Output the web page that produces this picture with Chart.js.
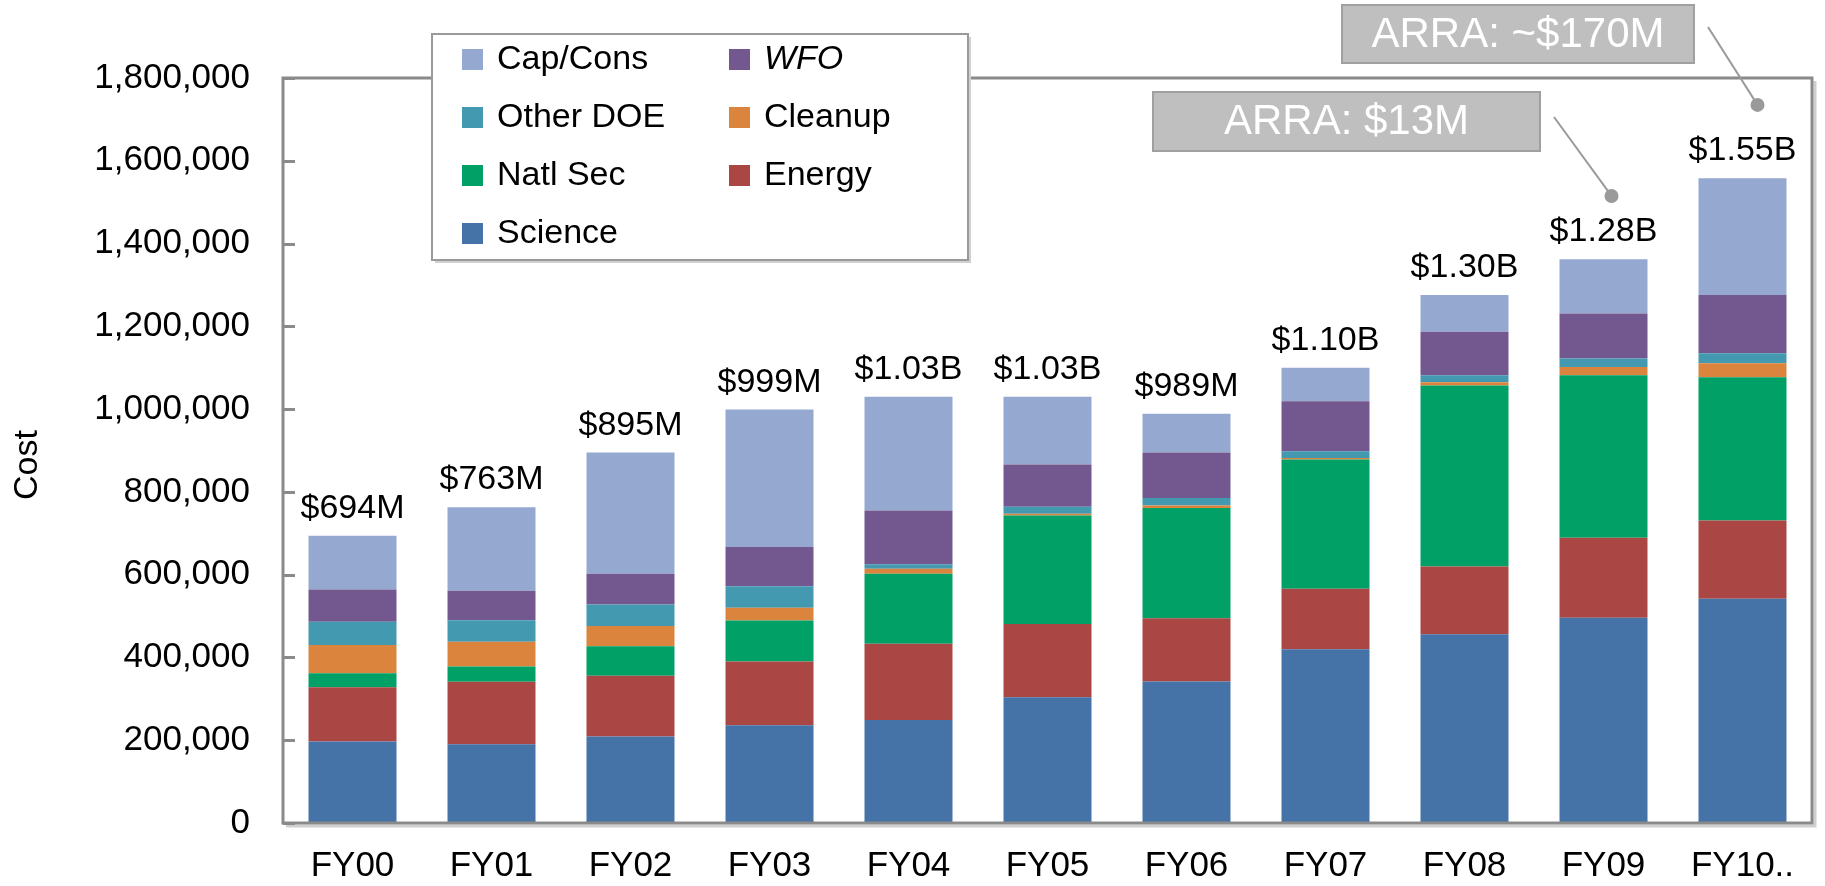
<!DOCTYPE html>
<html>
<head>
<meta charset="utf-8">
<script src="https://cdn.jsdelivr.net/npm/chart.js@4.4.1/dist/chart.umd.min.js"></script>
<style>
  html, body { margin: 0; padding: 0; background: #fff; }
  #wrap { width: 1825px; height: 886px; }
</style>
</head>
<body>
<div id="wrap"><canvas id="chart" width="1825" height="886"></canvas></div>
<script>
// values in $ (thousands, x1000)
const categories = ['FY00', 'FY01', 'FY02', 'FY03', 'FY04', 'FY05', 'FY06', 'FY07', 'FY08', 'FY09', 'FY10..'];
const science  = [197000, 190000, 209000, 236000, 249000, 304000, 342000, 420000, 456000, 496000, 542000];
const energy   = [131000, 151000, 147000, 154000, 184000, 177000, 153000, 146000, 164000, 193000, 189000];
const natlSec  = [34000, 37000, 71000, 99000, 169000, 262000, 266000, 312000, 437000, 393000, 346000];
const cleanup  = [68000, 60000, 49000, 31000, 12000, 4000, 6000, 4000, 8000, 20000, 34000];
const otherDoe = [56000, 52000, 52000, 52000, 11000, 17000, 18000, 16000, 17000, 20000, 24000];
const wfo      = [78000, 71000, 74000, 95000, 130000, 102000, 110000, 121000, 105000, 109000, 141000];
const capCons  = [130000, 202000, 293000, 332000, 275000, 164000, 94000, 81000, 89000, 131000, 282000];
const totalLabels = ['$694M', '$763M', '$895M', '$999M', '$1.03B', '$1.03B', '$989M', '$1.10B', '$1.30B', '$1.28B', '$1.55B'];
const yTicks = [0, 200000, 400000, 600000, 800000, 1000000, 1200000, 1400000, 1600000, 1800000];

// ARRA callouts
const arraText = ['ARRA: $13M', 'ARRA: ~$170M'];
const arraCategory = ['FY09', 'FY10..'];
const arraDotValue = [1515000, 1735000];

const FONT = "'Liberation Sans', Arial, sans-serif";
const NARROW = "'Liberation Sans Narrow', 'Liberation Sans', Arial, sans-serif";

const series = [
  { label: 'Science', data: science, color: '#4572A7' },
  { label: 'Energy', data: energy, color: '#AA4744' },
  { label: 'Natl Sec', data: natlSec, color: '#00A066' },
  { label: 'Cleanup', data: cleanup, color: '#DB843D' },
  { label: 'Other DOE', data: otherDoe, color: '#4299B0' },
  { label: 'WFO', data: wfo, color: '#72588E' },
  { label: 'Cap/Cons', data: capCons, color: '#95A9D0' }
];

const stackTop = i => series.reduce((s, d) => s + d.data[i], 0);

const overlay = {
  id: 'overlay',
  afterDatasetsDraw(chart) {
    const { ctx, chartArea: a, scales: { x, y } } = chart;
    ctx.save();

    // totals above bars
    ctx.fillStyle = '#000';
    ctx.font = '34px ' + FONT;
    ctx.textAlign = 'center';
    ctx.textBaseline = 'alphabetic';
    categories.forEach((c, i) => {
      ctx.fillText(totalLabels[i], x.getPixelForValue(i), y.getPixelForValue(stackTop(i)) - 18);
    });

    // plot frame with soft shadow
    ctx.strokeStyle = '#cfcfcf';
    ctx.lineWidth = 3;
    ctx.beginPath();
    ctx.moveTo(a.left + 3, a.bottom + 3);
    ctx.lineTo(a.right + 3, a.bottom + 3);
    ctx.lineTo(a.right + 3, a.top + 3);
    ctx.stroke();
    ctx.strokeStyle = '#8a8a8a';
    ctx.strokeRect(a.left, a.top, a.right - a.left, a.bottom - a.top);

    // inward tick marks on the value axis
    yTicks.forEach(v => {
      const py = Math.round(y.getPixelForValue(v)) + 0.5;
      ctx.beginPath();
      ctx.moveTo(a.left, py);
      ctx.lineTo(a.left + 12, py);
      ctx.stroke();
    });

    // axis title
    ctx.save();
    ctx.translate(28, 465);
    ctx.rotate(-Math.PI / 2);
    ctx.font = '34px ' + NARROW;
    ctx.textBaseline = 'middle';
    ctx.fillText('Cost', 0, 0);
    ctx.restore();
    ctx.restore();
  },
  afterDraw(chart) {
    const { ctx, scales: { x, y } } = chart;
    ctx.save();

    // legend box, two columns, top series first
    const lx = 432, ly = 34, lw = 536, lh = 226;
    ctx.fillStyle = '#d0d0d0';
    ctx.fillRect(lx + 3, ly + 3, lw, lh);
    ctx.fillStyle = '#fff';
    ctx.fillRect(lx, ly, lw, lh);
    ctx.strokeStyle = '#9a9a9a';
    ctx.lineWidth = 2;
    ctx.strokeRect(lx, ly, lw, lh);
    ctx.textBaseline = 'middle';
    ctx.textAlign = 'left';
    series.slice().reverse().forEach((s, i) => {
      const col = i % 2, row = Math.floor(i / 2);
      const sx = lx + 30 + col * 267;
      const sy = ly + 25 + row * 58;
      ctx.fillStyle = s.color;
      ctx.fillRect(sx, sy - 10, 21, 21);
      ctx.fillStyle = '#000';
      ctx.font = (s.label === 'WFO' ? 'italic ' : '') + '34px ' + FONT;
      ctx.fillText(s.label, sx + 35, sy + 1);
    });

    // ARRA callouts
    const boxes = [
      { x: 1153, y: 92, w: 387, h: 59, lx: 1554, ly: 117 },
      { x: 1342, y: 5, w: 352, h: 58, lx: 1708, ly: 27 }
    ];
    const dotOffset = [8, 15];
    arraText.forEach((t, i) => {
      const b = boxes[i];
      const dx = x.getPixelForValue(categories.indexOf(arraCategory[i])) + dotOffset[i];
      const dy = y.getPixelForValue(arraDotValue[i]);
      ctx.strokeStyle = '#9a9a9a';
      ctx.lineWidth = 2;
      ctx.beginPath();
      ctx.moveTo(b.lx, b.ly);
      ctx.lineTo(dx, dy);
      ctx.stroke();
      ctx.fillStyle = '#9a9a9a';
      ctx.beginPath();
      ctx.arc(dx, dy, 7, 0, Math.PI * 2);
      ctx.fill();

      ctx.fillStyle = '#bfbfbf';
      ctx.fillRect(b.x, b.y, b.w, b.h);
      ctx.strokeStyle = '#a0a0a0';
      ctx.lineWidth = 2;
      ctx.strokeRect(b.x, b.y, b.w, b.h);
      ctx.fillStyle = '#fff';
      ctx.font = '42px ' + FONT;
      ctx.textAlign = 'center';
      ctx.textBaseline = 'middle';
      ctx.fillText(t, b.x + b.w / 2, b.y + b.h / 2 + 1);
    });
    ctx.restore();
  }
};

new Chart(document.getElementById('chart').getContext('2d'), {
  type: 'bar',
  data: {
    labels: categories,
    datasets: series.map(s => ({
      label: s.label,
      data: s.data,
      backgroundColor: s.color,
      borderWidth: 0,
      categoryPercentage: 1,
      barPercentage: 0.633
    }))
  },
  options: {
    responsive: false,
    animation: false,
    layout: { padding: { top: 78, right: 13, left: 0, bottom: 0 } },
    plugins: {
      legend: { display: false },
      tooltip: { enabled: false }
    },
    scales: {
      x: {
        stacked: true,
        grid: { display: false, drawTicks: false },
        border: { display: false },
        ticks: {
          color: '#000',
          font: { size: 35, family: NARROW },
          padding: 22,
          maxRotation: 0,
          autoSkip: false
        },
        afterFit(s) { s.height = 63; }
      },
      y: {
        stacked: true,
        min: 0,
        max: 1800000,
        grid: { display: false, drawTicks: false },
        border: { display: false },
        afterBuildTicks(s) { s.ticks = yTicks.map(v => ({ value: v })); },
        ticks: {
          color: '#000',
          font: { size: 35, family: FONT },
          padding: 33,
          callback: v => v.toLocaleString('en-US')
        },
        afterFit(s) { s.width = 283; }
      }
    }
  },
  plugins: [overlay]
});
</script>
</body>
</html>
